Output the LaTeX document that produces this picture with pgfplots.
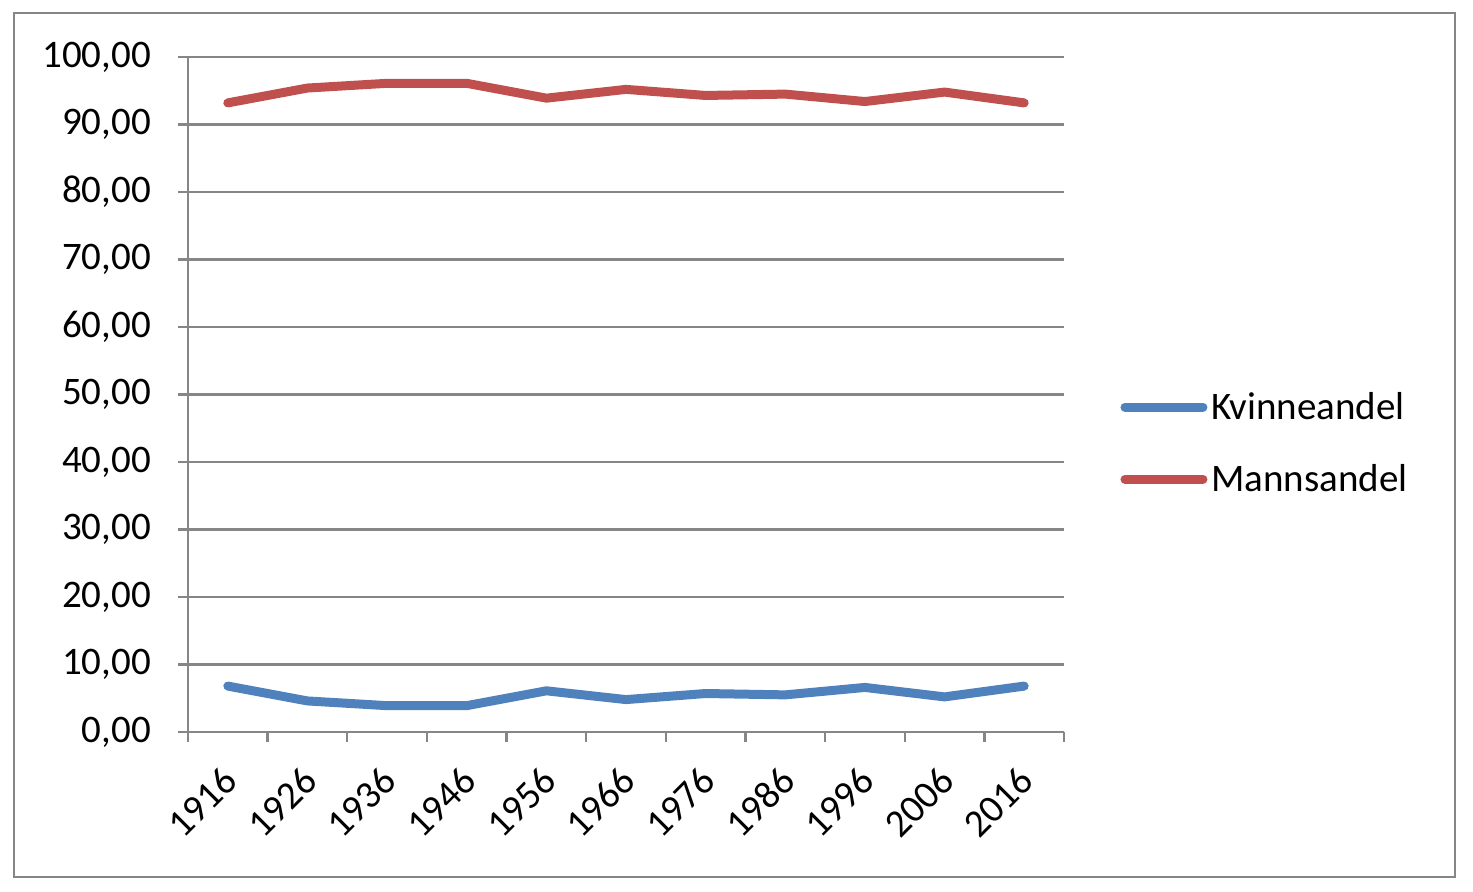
\documentclass[border=0pt]{standalone}
\usepackage{pgfplots}
\pgfplotsset{compat=1.18}
\usepackage{fontspec}
\setmainfont{Carlito}
\definecolor{kblue}{HTML}{4F81BD}
\definecolor{mred}{HTML}{C0504D}
\definecolor{gridgrey}{HTML}{868686}
\begin{document}
\begin{tikzpicture}[x=1pt,y=1pt]
\useasboundingbox (-94,-80) rectangle (642.5,366);
\draw[gridgrey, line width=1.2pt] (-87,-72.5) rectangle (633.5,359.5);
\begin{axis}[
  at={(0,0)}, anchor=south west,
  scale only axis, width=438pt, height=337.5pt,
  xmin=-0.5, xmax=10.5, ymin=0, ymax=100,
  axis x line*=bottom, axis y line*=left,
  axis line style={gridgrey, line width=1.2pt},
  xtick={0,...,10},
  xticklabels={1916,1926,1936,1946,1956,1966,1976,1986,1996,2006,2016},
  major x tick style={draw=none},
  minor xtick={-0.5,0.5,...,10.5},
  minor x tick style={gridgrey, line width=1.2pt},
  minor tick length=5pt,
  ytick={0,10,...,100},
  major y tick style={gridgrey, line width=1.2pt},
  major tick length=5pt,
  tick align=outside,
  ymajorgrids, grid style={gridgrey, line width=1.2pt},
  font=\fontsize{19.5}{23}\selectfont,
  /pgf/number format/assume math mode=true,
  y tick label style={/pgf/number format/fixed, /pgf/number format/fixed zerofill,
    /pgf/number format/precision=2, /pgf/number format/use comma,
    /pgf/number format/1000 sep={}, xshift=-10pt},
  xticklabel style={xshift=-3.5pt, yshift=-6.3pt, rotate=45, anchor=north east},
  legend style={at={(1.064,0.428)}, anchor=west, draw=none, fill=none,
    font=\fontsize{19.5}{23}\selectfont, row sep=17pt, inner sep=0pt},
  legend cell align=left,
  legend image code/.code={\draw[#1, line cap=round] (0pt,0pt) -- (39pt,0pt);},
]
\addplot[kblue, line width=4.5pt, line join=round, line cap=round] coordinates {
(0,6.8) (1,4.6) (2,3.9) (3,3.9) (4,6.1) (5,4.8) (6,5.7) (7,5.5) (8,6.6) (9,5.2) (10,6.8)};
\addlegendentry{Kvinneandel}
\addplot[mred, line width=4.5pt, line join=round, line cap=round] coordinates {
(0,93.2) (1,95.4) (2,96.1) (3,96.1) (4,93.9) (5,95.2) (6,94.3) (7,94.5) (8,93.4) (9,94.8) (10,93.2)};
\addlegendentry{Mannsandel}
\end{axis}
\end{tikzpicture}
\end{document}
